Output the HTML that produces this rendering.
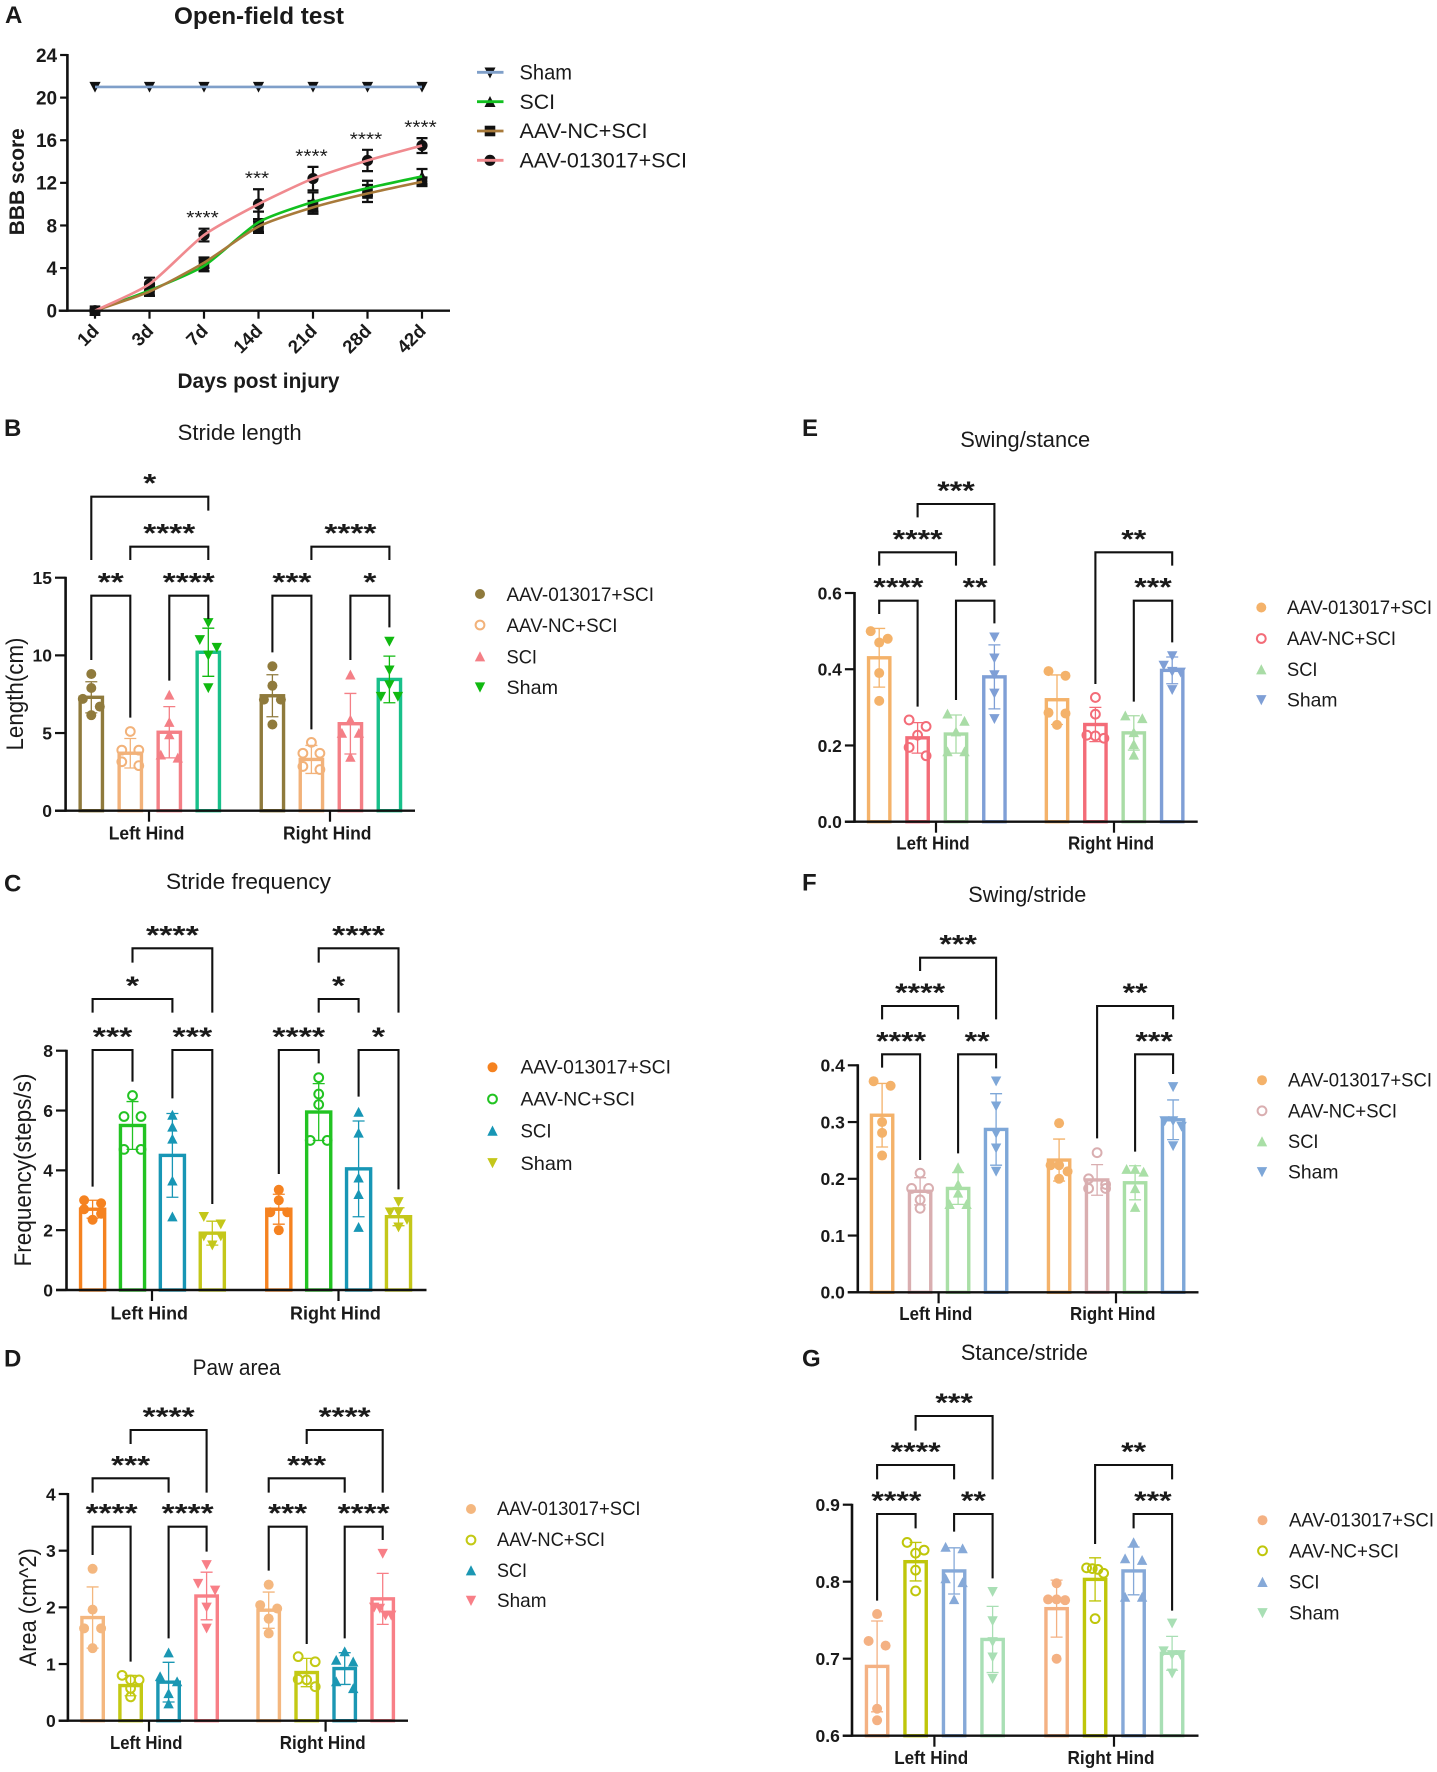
<!DOCTYPE html>
<html lang="en">
<head>
<meta charset="utf-8">
<title>Open-field test and gait analysis panels</title>
<style>
html,body{margin:0;padding:0;background:#fff;}
svg{display:block;font-family:"Liberation Sans",Arial,sans-serif;}
svg text{fill:#1a1a1a;}
.letter{font-size:24px;font-weight:bold;}
.title{font-size:22px;text-anchor:middle;}
.ytitle{font-size:24px;text-anchor:middle;}
.leg{font-size:19.5px;}
</style>
</head>
<body>
<svg id="figure" xmlns="http://www.w3.org/2000/svg" width="1437" height="1772" viewBox="0 0 1437 1772">
<rect x="0" y="0" width="1437" height="1772" fill="#fff"/>

<!-- panel letters -->
<text class="letter" x="5" y="23">A</text>
<text class="letter" x="4" y="436">B</text>
<text class="letter" x="4" y="891.7">C</text>
<text class="letter" x="4" y="1366.7">D</text>
<text class="letter" x="802" y="436">E</text>
<text class="letter" x="802" y="890.7">F</text>
<text class="letter" x="802" y="1366.7">G</text>

<!-- titles -->
<text x="259" y="24" text-anchor="middle" font-size="24" font-weight="bold" textLength="170" lengthAdjust="spacingAndGlyphs">Open-field test</text>
<text class="title" x="239.7" y="440" textLength="124" lengthAdjust="spacingAndGlyphs">Stride length</text>
<text class="title" x="248.5" y="889" textLength="165" lengthAdjust="spacingAndGlyphs">Stride frequency</text>
<text class="title" x="236.6" y="1375" textLength="88" lengthAdjust="spacingAndGlyphs">Paw area</text>
<text class="title" x="1025.2" y="447" textLength="130" lengthAdjust="spacingAndGlyphs">Swing/stance</text>
<text class="title" x="1027.3" y="902" textLength="118" lengthAdjust="spacingAndGlyphs">Swing/stride</text>
<text class="title" x="1024.4" y="1360" textLength="127" lengthAdjust="spacingAndGlyphs">Stance/stride</text>

<!-- axis titles -->
<text transform="translate(23.8,181.7) rotate(-90)" text-anchor="middle" font-size="21" font-weight="bold" textLength="107" lengthAdjust="spacingAndGlyphs">BBB score</text>
<text x="258.5" y="388" text-anchor="middle" font-size="21.5" font-weight="bold" textLength="162" lengthAdjust="spacingAndGlyphs">Days post injury</text>
<text class="ytitle" transform="translate(23,694) rotate(-90)" textLength="113" lengthAdjust="spacingAndGlyphs">Length(cm)</text>
<text class="ytitle" transform="translate(31,1170) rotate(-90)" textLength="193" lengthAdjust="spacingAndGlyphs">Frequency(steps/s)</text>
<text class="ytitle" transform="translate(35.8,1607.3) rotate(-90)" textLength="118" lengthAdjust="spacingAndGlyphs">Area (cm^2)</text>

<!-- legend A -->
<g>
  <g>
    <path d="M490,78.5L484.5,67.5H495.5Z" fill="#111"/><line x1="477" x2="503.5" y1="72.3" y2="72.3" stroke="#7f9fc9" stroke-width="2.8"/>
    <text x="519.5" y="79.5" font-size="21" textLength="52.5" lengthAdjust="spacingAndGlyphs">Sham</text>
  </g>
  <g>
    <path d="M490,96L495.5,107H484.5Z" fill="#111"/><line x1="477" x2="503.5" y1="101.7" y2="101.7" stroke="#12c020" stroke-width="2.8"/>
    <text x="519.5" y="108.9" font-size="21" textLength="35.5" lengthAdjust="spacingAndGlyphs">SCI</text>
  </g>
  <g>
    <rect x="484.7" y="125.7" width="10.6" height="10.6" fill="#111"/><line x1="477" x2="503.5" y1="131" y2="131" stroke="#a87a3a" stroke-width="2.8"/>
    <text x="519.5" y="138.2" font-size="21" textLength="128" lengthAdjust="spacingAndGlyphs">AAV-NC+SCI</text>
  </g>
  <g>
    <circle cx="490" cy="160.3" r="5.6" fill="#111"/><line x1="477" x2="503.5" y1="160.3" y2="160.3" stroke="#f08a8f" stroke-width="2.8"/>
    <text x="519.5" y="167.5" font-size="21" textLength="167.5" lengthAdjust="spacingAndGlyphs">AAV-013017+SCI</text>
  </g>
</g>

<!-- legend B -->
<g>
  <circle cx="480" cy="594" r="5" fill="#8f7a3c"/>
  <text class="leg" x="506.5" y="600.8" textLength="147.5" lengthAdjust="spacingAndGlyphs">AAV-013017+SCI</text>
  <circle cx="480" cy="625" r="4.4" fill="none" stroke="#f2b27a" stroke-width="2"/>
  <text class="leg" x="506.5" y="631.8" textLength="111" lengthAdjust="spacingAndGlyphs">AAV-NC+SCI</text>
  <path d="M480,651.2L485.2,661.4H474.8Z" fill="#f47f86"/>
  <text class="leg" x="506.5" y="663.5" textLength="30.5" lengthAdjust="spacingAndGlyphs">SCI</text>
  <path d="M480,692.6L485.2,682.4H474.8Z" fill="#10b910"/>
  <text class="leg" x="506.5" y="694.1" textLength="51.5" lengthAdjust="spacingAndGlyphs">Sham</text>
</g>

<!-- legend C -->
<g>
  <circle cx="492.5" cy="1067.3" r="5" fill="#f58220"/>
  <text class="leg" x="520.5" y="1073.3" textLength="150.5" lengthAdjust="spacingAndGlyphs">AAV-013017+SCI</text>
  <circle cx="492.5" cy="1099" r="4.4" fill="none" stroke="#22c322" stroke-width="2"/>
  <text class="leg" x="520.5" y="1105.3" textLength="114.5" lengthAdjust="spacingAndGlyphs">AAV-NC+SCI</text>
  <path d="M492.5,1125.5L497.7,1135.7H487.3Z" fill="#1796b5"/>
  <text class="leg" x="520.5" y="1137.5" textLength="31" lengthAdjust="spacingAndGlyphs">SCI</text>
  <path d="M492.5,1168.3L497.7,1158.1H487.3Z" fill="#c4c71a"/>
  <text class="leg" x="520.5" y="1169.8" textLength="52" lengthAdjust="spacingAndGlyphs">Sham</text>
</g>

<!-- legend D -->
<g>
  <circle cx="471" cy="1509" r="5" fill="#f4b77f"/>
  <text class="leg" x="497" y="1515" textLength="143.5" lengthAdjust="spacingAndGlyphs">AAV-013017+SCI</text>
  <circle cx="471" cy="1540" r="4.4" fill="none" stroke="#c3c914" stroke-width="2"/>
  <text class="leg" x="497" y="1546" textLength="108" lengthAdjust="spacingAndGlyphs">AAV-NC+SCI</text>
  <path d="M471,1565.2L476.2,1575.4H465.8Z" fill="#1b97b3"/>
  <text class="leg" x="497" y="1577" textLength="30" lengthAdjust="spacingAndGlyphs">SCI</text>
  <path d="M471,1606L476.2,1595.8H465.8Z" fill="#f87f87"/>
  <text class="leg" x="497" y="1607" textLength="49.5" lengthAdjust="spacingAndGlyphs">Sham</text>
</g>

<!-- legend E -->
<g>
  <circle cx="1261.3" cy="607.5" r="5" fill="#f4b26a"/>
  <text class="leg" x="1287" y="614" textLength="145" lengthAdjust="spacingAndGlyphs">AAV-013017+SCI</text>
  <circle cx="1261.3" cy="638.5" r="4.4" fill="none" stroke="#f36c78" stroke-width="2"/>
  <text class="leg" x="1287" y="645" textLength="109" lengthAdjust="spacingAndGlyphs">AAV-NC+SCI</text>
  <path d="M1261.3,664.2L1266.5,674.4H1256.1Z" fill="#a9dca6"/>
  <text class="leg" x="1287" y="676" textLength="30.5" lengthAdjust="spacingAndGlyphs">SCI</text>
  <path d="M1261.3,705.3L1266.5,695.1H1256.1Z" fill="#7f9fd6"/>
  <text class="leg" x="1287" y="706.5" textLength="50.5" lengthAdjust="spacingAndGlyphs">Sham</text>
</g>

<!-- legend F -->
<g>
  <circle cx="1262" cy="1080.2" r="5" fill="#f4b26a"/>
  <text class="leg" x="1288" y="1086.7" textLength="144" lengthAdjust="spacingAndGlyphs">AAV-013017+SCI</text>
  <circle cx="1262" cy="1110.8" r="4.4" fill="none" stroke="#d9aeb0" stroke-width="2"/>
  <text class="leg" x="1288" y="1117.3" textLength="109" lengthAdjust="spacingAndGlyphs">AAV-NC+SCI</text>
  <path d="M1262,1136.2L1267.2,1146.4H1256.8Z" fill="#a9dfa6"/>
  <text class="leg" x="1288" y="1148" textLength="30.5" lengthAdjust="spacingAndGlyphs">SCI</text>
  <path d="M1262,1177.3L1267.2,1167.1H1256.8Z" fill="#7ea7d8"/>
  <text class="leg" x="1288" y="1178.5" textLength="50.5" lengthAdjust="spacingAndGlyphs">Sham</text>
</g>

<!-- legend G -->
<g>
  <circle cx="1262.5" cy="1520.2" r="5" fill="#f4b183"/>
  <text class="leg" x="1289" y="1526.7" textLength="145" lengthAdjust="spacingAndGlyphs">AAV-013017+SCI</text>
  <circle cx="1262.5" cy="1550.8" r="4.4" fill="none" stroke="#bfc60a" stroke-width="2"/>
  <text class="leg" x="1289" y="1557.3" textLength="110" lengthAdjust="spacingAndGlyphs">AAV-NC+SCI</text>
  <path d="M1262.5,1576.8L1267.7,1587H1257.3Z" fill="#86a9d8"/>
  <text class="leg" x="1289" y="1588.6" textLength="30.5" lengthAdjust="spacingAndGlyphs">SCI</text>
  <path d="M1262.5,1618.3L1267.7,1608.1H1257.3Z" fill="#a9dfb5"/>
  <text class="leg" x="1289" y="1619.5" textLength="50.5" lengthAdjust="spacingAndGlyphs">Sham</text>
</g>
</svg>

<script>
/* ---------- Panel A data ---------- */
const dayLabels = ['1d','3d','7d','14d','21d','28d','42d'];
const bbbTickLabels = ['0','4','8','12','16','20','24'];
const shamScores = [21,21,21,21,21,21,21];
const shamErrors = [0,0,0,0,0,0,0];
const sciScores = [0,1.9,4.2,8.3,10.2,11.5,12.6];
const sciErrors = [0.1,0.5,0.5,1.0,0.9,0.7,0.7];
const ncScores = [0,1.8,4.5,7.9,9.7,11,12.1];
const ncErrors = [0.1,0.4,0.5,0.5,0.6,0.8,0.4];
const treatedScores = [0,2.5,7.1,10,12.4,14.1,15.5];
const treatedErrors = [0.1,0.6,0.6,1.4,1.1,1.0,0.7];
const bbbStars = ['','','****','***','****','****','****'];

/* ---------- Bar panel shared categories ---------- */
const hindLabels = ['Left Hind','Right Hind'];

/* ---------- Panel B: stride length ---------- */
const strideLengthTicks = ['0','5','10','15'];
const strideLengthMeans = [7.3,3.7,5.05,10.2,7.4,3.3,5.6,8.45];
const strideLengthErrors = [1.0,0.95,1.65,1.55,1.35,0.9,1.95,1.5];
const strideLengthPoints = [
  [8.8,7.9,7.2,6.7,6.15],[5.1,3.9,3.9,3.15,2.9],[7.45,5.7,4.9,3.6,3.4],[12.1,11,10.5,10,7.9],
  [9.3,8.05,7.15,7.15,5.55],[4.4,3.7,3.7,2.85,2.65],[8.75,5.85,5,5,3.45],[10.9,9.05,8.1,7.35,7.35]
];

/* ---------- Panel C: stride frequency ---------- */
const strideFreqTicks = ['0','2','4','6','8'];
const strideFreqMeans = [2.7,5.5,4.5,1.9,2.7,5.95,4.05,2.45];
const strideFreqErrors = [0.3,0.8,1.4,0.4,0.5,0.95,1.6,0.3];
const strideFreqPoints = [
  [3.0,2.9,2.7,2.55,2.35],[6.5,5.8,5.8,4.7,4.7],[5.85,5.45,5.05,3.65,2.45],[2.45,2.2,1.8,1.8,1.5],
  [3.35,3,2.6,2.6,2.0],[7.1,6.55,6.2,5,5],[5.95,5.25,3.75,3.2,2.1],[2.95,2.6,2.6,2.35,2.1]
];

/* ---------- Panel D: paw area ---------- */
const pawAreaTicks = ['0','1','2','3','4'];
const pawAreaMeans = [1.82,0.62,0.68,2.2,1.95,0.85,0.92,2.15];
const pawAreaErrors = [0.54,0.18,0.35,0.42,0.32,0.25,0.28,0.45];
const pawAreaPoints = [
  [2.68,1.96,1.63,1.63,1.28],[0.8,0.72,0.72,0.57,0.42],[1.2,0.78,0.69,0.48,0.3],[2.75,2.42,2.3,2.0,1.63],
  [2.4,2.04,1.98,1.8,1.54],[1.13,1.04,0.73,0.72,0.6],[1.22,1.07,1.04,0.69,0.57],[2.95,2.0,1.98,1.86,1.86]
];

/* ---------- Panel E: swing/stance ---------- */
const swingStanceTicks = ['0.0','0.2','0.4','0.6'];
const swingStanceMeans = [0.43,0.22,0.23,0.38,0.32,0.255,0.233,0.397];
const swingStanceErrors = [0.077,0.04,0.05,0.084,0.065,0.045,0.045,0.035];
const swingStancePoints = [
  [0.5,0.48,0.47,0.39,0.317],[0.267,0.25,0.227,0.195,0.173],[0.283,0.264,0.236,0.184,0.184],[0.484,0.429,0.385,0.337,0.27],
  [0.395,0.383,0.286,0.284,0.254],[0.326,0.282,0.227,0.225,0.219],[0.278,0.271,0.234,0.203,0.175],[0.435,0.41,0.394,0.392,0.346]
];

/* ---------- Panel F: swing/stride ---------- */
const swingStrideTicks = ['0.0','0.1','0.2','0.3','0.4'];
const swingStrideMeans = [0.312,0.178,0.183,0.287,0.233,0.198,0.193,0.304];
const swingStrideErrors = [0.056,0.024,0.028,0.063,0.037,0.027,0.03,0.035];
const swingStridePoints = [
  [0.372,0.364,0.3,0.281,0.241],[0.21,0.183,0.183,0.163,0.148],[0.22,0.19,0.175,0.155,0.155],[0.372,0.328,0.28,0.254,0.213],
  [0.298,0.224,0.224,0.213,0.2],[0.246,0.2,0.19,0.183,0.183],[0.217,0.217,0.212,0.183,0.15],[0.362,0.302,0.302,0.292,0.258]
];

/* ---------- Panel G: stance/stride ---------- */
const stanceStrideTicks = ['0.6','0.7','0.8','0.9'];
const stanceStrideMeans = [0.69,0.826,0.814,0.725,0.765,0.803,0.814,0.707];
const stanceStrideErrors = [0.059,0.025,0.03,0.043,0.037,0.028,0.031,0.022];
const stanceStridePoints = [
  [0.758,0.723,0.717,0.635,0.62],[0.851,0.841,0.837,0.815,0.788],[0.845,0.843,0.804,0.799,0.777],[0.787,0.749,0.722,0.702,0.674],
  [0.798,0.777,0.777,0.776,0.7],[0.818,0.817,0.816,0.811,0.752],[0.851,0.83,0.828,0.78,0.78],[0.746,0.71,0.705,0.705,0.681]
];

/* ---------- significance labels: [fromBar, toBar, label] ---------- */
const strideLengthSig = [[0,3,'*'],[1,3,'****'],[0,1,'**'],[2,3,'****'],[5,7,'****'],[4,5,'***'],[6,7,'*']];
const strideFreqSig = [[1,3,'****'],[0,2,'*'],[0,1,'***'],[2,3,'***'],[5,7,'****'],[5,6,'*'],[4,5,'****'],[6,7,'*']];
const pawAreaSig = [[1,3,'****'],[0,2,'***'],[0,1,'****'],[2,3,'****'],[5,7,'****'],[4,6,'***'],[4,5,'***'],[6,7,'****']];
const swingStanceSig = [[1,3,'***'],[0,2,'****'],[0,1,'****'],[2,3,'**'],[5,7,'**'],[6,7,'***']];
const swingStrideSig = [[1,3,'***'],[0,2,'****'],[0,1,'****'],[2,3,'**'],[5,7,'**'],[6,7,'***']];
const stanceStrideSig = [[1,3,'***'],[0,2,'****'],[0,1,'****'],[2,3,'**'],[5,7,'**'],[6,7,'***']];

const SVG_NS = 'http://www.w3.org/2000/svg';
const figure = document.getElementById('figure');

function el(parent, tag, attrs) {
  const node = document.createElementNS(SVG_NS, tag);
  for (const k in attrs) node.setAttribute(k, attrs[k]);
  parent.appendChild(node);
  return node;
}

function axisLines(g, axisX, tickLeft, right, y0, yTop) {
  const yAxis = el(g, 'line', {x1: axisX, x2: axisX, y1: yTop - 1, y2: y0 + 1, stroke: '#111', 'stroke-width': 2.6});
  
  
  const xAxis = el(g, 'line', {x1: tickLeft, x2: right, y1: y0, y2: y0, stroke: '#111', 'stroke-width': 2.4});
  
  
}

function yTicks(g, labels, yOf, axisX, tickLeft, size) {
  labels.forEach(function (lab) {
    const y = yOf(parseFloat(lab));
    const tick = el(g, 'line', {x1: tickLeft, x2: axisX, y1: y, y2: y, stroke: '#111', 'stroke-width': 2.2});
    
    
    const t = el(g, 'text', {x: tickLeft - 3, y: y + size * 0.36, 'text-anchor': 'end', 'font-size': size, 'font-weight': 'bold'});
    t.textContent = lab;
    
    
  });
}

function markerPath(shape, x, y, s) {
  if (shape === 'up') return 'M' + x + ',' + (y - s) + 'L' + (x + s) + ',' + (y + s * 0.9) + 'H' + (x - s) + 'Z';
  if (shape === 'down') return 'M' + x + ',' + (y + s) + 'L' + (x + s) + ',' + (y - s * 0.9) + 'H' + (x - s) + 'Z';
  return '';
}

/* Spread points that sit at nearly the same height across the bar, as a column scatter does. */
function swarmOffsets(values, yOf, spread, closeness) {
  const offsets = new Array(values.length).fill(0);
  const order = values.map(function (v, i) { return i; }).sort(function (a, b) { return values[b] - values[a]; });
  let i = 0;
  while (i < order.length) {
    let j = i + 1;
    while (j < order.length && Math.abs(yOf(values[order[j]]) - yOf(values[order[i]])) < closeness) j++;
    const n = j - i;
    if (n > 1) {
      for (let k = 0; k < n; k++) offsets[order[i + k]] = (k / (n - 1) - 0.5) * spread;
    }
    i = j;
  }
  return offsets;
}

function drawBarPanel(cfg) {
  const g = el(figure, 'g', {});
  
  

  const yOf = function (v) { return cfg.y0 - (v - cfg.min) / (cfg.max - cfg.min) * (cfg.y0 - cfg.yTop); };
  const xOf = function (k) { return k < 4 ? cfg.x0 + k * cfg.step : cfg.x2 + (k - 4) * cfg.step; };
  const shapes = ['circle', 'open', 'up', 'down'];

  cfg.means.forEach(function (m, k) {
    const s = k % 4;
    const cx = xOf(k);
    const color = cfg.colors[s];
    const barColor = (cfg.barColors || cfg.colors)[s];
    const inner = cfg.barW - 3.4;

    const bar = el(g, 'rect', {x: cx - inner / 2, y: yOf(m), width: inner, height: cfg.y0 - yOf(m), fill: 'none', stroke: barColor, 'stroke-width': 3.4});
    
    

    const e = cfg.errors[k];
    const yHi = yOf(m + e), yLo = yOf(m - e);
    const err = el(g, 'path', {d: 'M' + cx + ',' + yHi + 'V' + yLo + 'M' + (cx - 6) + ',' + yHi + 'H' + (cx + 6) + 'M' + (cx - 6) + ',' + yLo + 'H' + (cx + 6), fill: 'none', stroke: color, 'stroke-width': 1.3});
    
    

    const offs = swarmOffsets(cfg.points[k], yOf, 17, 8.5);
    cfg.points[k].forEach(function (v, i) {
      const px = cx + offs[i], py = yOf(v);
      let mark;
      if (shapes[s] === 'circle') {
        mark = el(g, 'circle', {cx: px, cy: py, r: 5, fill: color});
      } else if (shapes[s] === 'open') {
        mark = el(g, 'circle', {cx: px, cy: py, r: 4.4, fill: 'none', stroke: color, 'stroke-width': 2});
      } else {
        mark = el(g, 'path', {d: markerPath(shapes[s], px, py, 5.2), fill: color});
      }
      
      
    });
  });

  axisLines(g, cfg.axisX, cfg.tickLeft, cfg.right, cfg.y0, cfg.yTop);
  yTicks(g, cfg.ticks, yOf, cfg.axisX, cfg.tickLeft, 17.5);

  hindLabels.forEach(function (lab, i) {
    const tick = el(g, 'line', {x1: cfg.groupTicks[i], x2: cfg.groupTicks[i], y1: cfg.y0, y2: cfg.y0 + 11, stroke: '#111', 'stroke-width': 2.2});
    
    
    const box = cfg.groupBoxes[i];
    const t = el(g, 'text', {x: box[0], y: cfg.groupY, 'font-size': 18, 'font-weight': 'bold', textLength: box[1], lengthAdjust: 'spacingAndGlyphs'});
    t.textContent = lab;
    
    
  });

  cfg.sig.forEach(function (sig, i) {
    const route = cfg.routes[i];
    const xa = xOf(sig[0]), xb = xOf(sig[1]);
    const top = cfg.origin + route[0] / 3;
    const la = cfg.origin + route[1] / 3;
    const lb = cfg.origin + route[2] / 3;
    const br = el(g, 'path', {d: 'M' + xa + ',' + la + 'V' + top + 'H' + xb + 'V' + lb, fill: 'none', stroke: '#111', 'stroke-width': 2.1});
    
    
    const star = el(g, 'text', {x: (xa + xb) / 2, y: top - 4.5, 'text-anchor': 'middle', 'font-size': 26, 'font-weight': 'bold', textLength: sig[2].length * cfg.starW, lengthAdjust: 'spacingAndGlyphs'});
    star.textContent = sig[2];
    
    
  });
}

/* ---------- Panel A line chart ---------- */
function drawOpenField() {
  const g = el(figure, 'g', {});
  
  

  const plot = {axisX: 67.4, tickLeft: 58.7, right: 450, y0: 310.7, yTop: 55, maxV: 24, firstX: 95, lastX: 422};
  const yOf = function (v) { return plot.y0 - v / plot.maxV * (plot.y0 - plot.yTop); };
  const xOf = function (i) { return plot.firstX + i * (plot.lastX - plot.firstX) / (dayLabels.length - 1); };

  const series = [
    {scores: shamScores, errs: shamErrors, color: '#7f9fc9', shape: 'down'},
    {scores: sciScores, errs: sciErrors, color: '#12c020', shape: 'up'},
    {scores: ncScores, errs: ncErrors, color: '#a87a3a', shape: 'square'},
    {scores: treatedScores, errs: treatedErrors, color: '#f08a8f', shape: 'circle'}
  ];

  series.forEach(function (s) {
    s.scores.forEach(function (v, i) {
      const x = xOf(i), y = yOf(v);
      if (s.errs[i] > 0) {
        const yHi = yOf(v + s.errs[i]), yLo = yOf(v - s.errs[i]);
        const err = el(g, 'path', {d: 'M' + x + ',' + yHi + 'V' + yLo + 'M' + (x - 5.5) + ',' + yHi + 'H' + (x + 5.5) + 'M' + (x - 5.5) + ',' + yLo + 'H' + (x + 5.5), fill: 'none', stroke: '#111', 'stroke-width': 2.2});
        
        
      }
      let mark;
      if (s.shape === 'circle') mark = el(g, 'circle', {cx: x, cy: y, r: 5.6, fill: '#111'});
      else if (s.shape === 'square') mark = el(g, 'rect', {x: x - 5.3, y: y - 5.3, width: 10.6, height: 10.6, fill: '#111'});
      else mark = el(g, 'path', {d: markerPath(s.shape, x, y, 5.6), fill: '#111'});
      
      
    });
  });

  series.forEach(function (s) {
    const p = s.scores.map(function (v, i) { return [xOf(i), yOf(v)]; });
    let d = 'M' + p[0][0] + ',' + p[0][1];
    const k = 1 / 9;
    for (let i = 0; i < p.length - 1; i++) {
      const a = p[Math.max(i - 1, 0)], b = p[i], c = p[i + 1], e = p[Math.min(i + 2, p.length - 1)];
      d += 'C' + (b[0] + (c[0] - a[0]) * k) + ',' + (b[1] + (c[1] - a[1]) * k) + ' ' + (c[0] - (e[0] - b[0]) * k) + ',' + (c[1] - (e[1] - b[1]) * k) + ' ' + c[0] + ',' + c[1];
    }
    const line = el(g, 'path', {d: d, fill: 'none', stroke: s.color, 'stroke-width': 2.6});
    
    
  });

  bbbStars.forEach(function (lab, i) {
    if (!lab) return;
    const top = yOf(treatedScores[i] + treatedErrors[i]);
    const t = el(g, 'text', {x: xOf(i) - 1.5, y: top - 4.5, 'text-anchor': 'middle', 'font-size': 18, textLength: lab.length * 8.1, lengthAdjust: 'spacingAndGlyphs'});
    t.textContent = lab;
    
    
  });

  axisLines(g, plot.axisX, plot.tickLeft, plot.right, plot.y0, plot.yTop);
  yTicks(g, bbbTickLabels, yOf, plot.axisX, plot.tickLeft + 1.4, 19);

  dayLabels.forEach(function (lab, i) {
    const x = xOf(i);
    const tick = el(g, 'line', {x1: x, x2: x, y1: plot.y0, y2: plot.y0 + 8, stroke: '#111', 'stroke-width': 2.2});
    
    
    const t = el(g, 'text', {transform: 'translate(' + (x + 5) + ',332) rotate(-45)', 'text-anchor': 'end', 'font-size': 18.5, 'font-weight': 'bold'});
    t.textContent = lab;
    
    
  });
}

drawOpenField();

drawBarPanel({
  ticks: strideLengthTicks, means: strideLengthMeans, errors: strideLengthErrors, points: strideLengthPoints, sig: strideLengthSig,
  axisX: 65.6, tickLeft: 55, right: 415, y0: 810.7, yTop: 577.7, min: 0, max: 15,
  x0: 91.3, x2: 272.4, step: 39, barW: 25.7, starW: 13,
  colors: ['#8f7a3c', '#f2b27a', '#f47f86', '#10b910'], barColors: ['#8f7a3c', '#f2b27a', '#f47f86', '#18c08a'],
  groupTicks: [149, 330], groupY: 839.3, groupBoxes: [[108.7, 75.7], [283, 88.5]],
  origin: 420, routes: [[230, 420, 272], [380, 420, 420], [527, 720, 893], [527, 782, 597], [380, 420, 420], [527, 697, 928], [527, 720, 622]]
});

drawBarPanel({
  ticks: strideFreqTicks, means: strideFreqMeans, errors: strideFreqErrors, points: strideFreqPoints, sig: strideFreqSig,
  axisX: 66.5, tickLeft: 56, right: 426.5, y0: 1290, yTop: 1050.7, min: 0, max: 8,
  x0: 92.6, x2: 278.8, step: 39.9, barW: 27.5, starW: 13.2,
  colors: ['#f58220', '#22c322', '#1796b5', '#c4c71a'],
  groupTicks: [152, 338.5], groupY: 1319.3, groupBoxes: [[110.5, 77.5], [290, 90.8]],
  origin: 860, routes: [[265, 308, 458], [417, 458, 458], [570, 980, 665], [570, 715, 1032], [265, 308, 458], [417, 458, 458], [570, 942, 610], [570, 710, 988]]
});

drawBarPanel({
  ticks: pawAreaTicks, means: pawAreaMeans, errors: pawAreaErrors, points: pawAreaPoints, sig: pawAreaSig,
  axisX: 67.9, tickLeft: 58.7, right: 408, y0: 1720.7, yTop: 1494, min: 0, max: 4,
  x0: 92.6, x2: 268.7, step: 38, barW: 24.8, starW: 13,
  colors: ['#f4b77f', '#c3c914', '#1b97b3', '#f87f87'],
  groupTicks: [149, 325.6], groupY: 1749, groupBoxes: [[110, 72.5], [279.8, 85.8]],
  origin: 1340, routes: [[270, 312, 458], [415, 458, 458], [560, 645, 965], [560, 895, 635], [270, 312, 458], [415, 458, 458], [560, 692, 912], [560, 895, 600]]
});

drawBarPanel({
  ticks: swingStanceTicks, means: swingStanceMeans, errors: swingStanceErrors, points: swingStancePoints, sig: swingStanceSig,
  axisX: 854.5, tickLeft: 844.9, right: 1197.7, y0: 821.7, yTop: 593, min: 0, max: 0.6,
  x0: 879.2, x2: 1057, step: 38.4, barW: 24.7, starW: 12.5,
  colors: ['#f4b26a', '#f36c78', '#a9dca6', '#7f9fd6'],
  groupTicks: [936, 1114], groupY: 849.3, groupBoxes: [[896.3, 73.3], [1068, 86]],
  origin: 410, routes: [[282, 322, 467], [427, 467, 467], [572, 612, 890], [572, 870, 640], [427, 822, 467], [572, 875, 697]]
});

drawBarPanel({
  ticks: swingStrideTicks, means: swingStrideMeans, errors: swingStrideErrors, points: swingStridePoints, sig: swingStrideSig,
  axisX: 857.8, tickLeft: 847.8, right: 1198.5, y0: 1292.3, yTop: 1065.3, min: 0, max: 0.4,
  x0: 882.1, x2: 1059.1, step: 38, barW: 24.7, starW: 12.5,
  colors: ['#f4b26a', '#d9aeb0', '#a9dfa6', '#7ea7d8'],
  groupTicks: [938.6, 1116], groupY: 1320, groupBoxes: [[899.3, 73], [1070, 85.4]],
  origin: 870, routes: [[263, 303, 448], [408, 448, 448], [553, 593, 870], [553, 850, 595], [408, 805, 448], [553, 845, 612]]
});

drawBarPanel({
  ticks: stanceStrideTicks, means: stanceStrideMeans, errors: stanceStrideErrors, points: stanceStridePoints, sig: stanceStrideSig,
  axisX: 852, tickLeft: 842.8, right: 1198.5, y0: 1735.7, yTop: 1504.7, min: 0.6, max: 0.9,
  x0: 877.1, x2: 1056.6, step: 38.5, barW: 24.7, starW: 12.5,
  colors: ['#f4b183', '#bfc60a', '#86a9d8', '#a9dfb5'],
  groupTicks: [934.4, 1114], groupY: 1764, groupBoxes: [[894.2, 74], [1067.5, 87]],
  origin: 1330, routes: [[258, 302, 448], [405, 448, 448], [552, 812, 595], [552, 605, 745], [405, 642, 448], [552, 595, 842]]
});
</script>
</body>
</html>
